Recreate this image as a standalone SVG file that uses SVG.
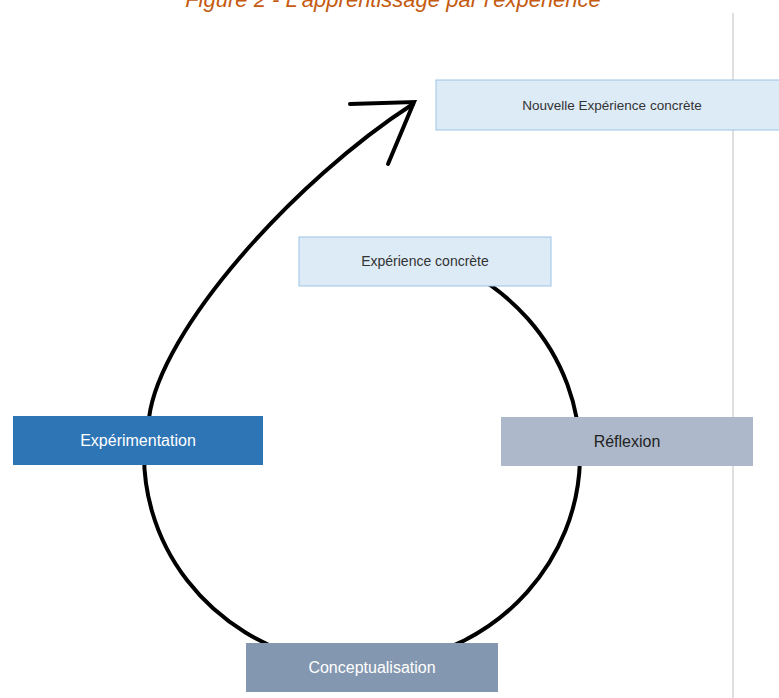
<svg xmlns="http://www.w3.org/2000/svg" width="779" height="698" viewBox="0 0 779 698">
<style>
.lbl{font-family:"Liberation Sans",Arial,sans-serif;text-anchor:middle;dominant-baseline:central}
.light rect{fill:#DDEBF7;stroke:#9DC3E6;stroke-width:1}
.light text{fill:#333333;font-size:13.5px}
.big text{font-size:16px}
.curve{fill:none;stroke:#000;stroke-width:4;stroke-linecap:round}
</style>
<rect width="779" height="698" fill="#ffffff"/>
<text x="393" y="7" font-family="'Liberation Sans',Arial,sans-serif" font-style="italic" font-size="22" fill="#C55A11" text-anchor="middle">Figure 2 - L'apprentissage par l'expérience</text>
<line x1="733" y1="13" x2="733" y2="698" stroke="#BFBFBF" stroke-width="1"/>
<g id="connectors">
<path class="curve" d="M 470 272.6 A 218 210 0 1 1 144.6 440"/>
<path class="curve" d="M 149 418 C 160 330 295 180 413 104"/>
<path class="curve" d="M 350 104 L 414 102 L 388 164"/>
</g>
<g id="node-nouvelle" class="light">
<rect x="436" y="80" width="350" height="50"/>
<text class="lbl" x="612" y="105">Nouvelle Expérience concrète</text>
</g>
<g id="node-experience" class="light">
<rect x="299" y="237" width="252" height="49"/>
<text class="lbl" x="425" y="261" style="font-size:14px">Expérience concrète</text>
</g>
<g id="node-experimentation" class="big">
<rect x="13" y="416" width="250" height="49" fill="#2E75B6"/>
<text class="lbl" x="138" y="440" fill="#ffffff">Expérimentation</text>
</g>
<g id="node-reflexion" class="big">
<rect x="501" y="417" width="252" height="49" fill="#ADB9CA"/>
<text class="lbl" x="627" y="441" fill="#222222">Réflexion</text>
</g>
<g id="node-conceptualisation" class="big">
<rect x="246" y="643" width="252" height="49" fill="#8497B0"/>
<text class="lbl" x="372" y="667" fill="#ffffff">Conceptualisation</text>
</g>
</svg>
